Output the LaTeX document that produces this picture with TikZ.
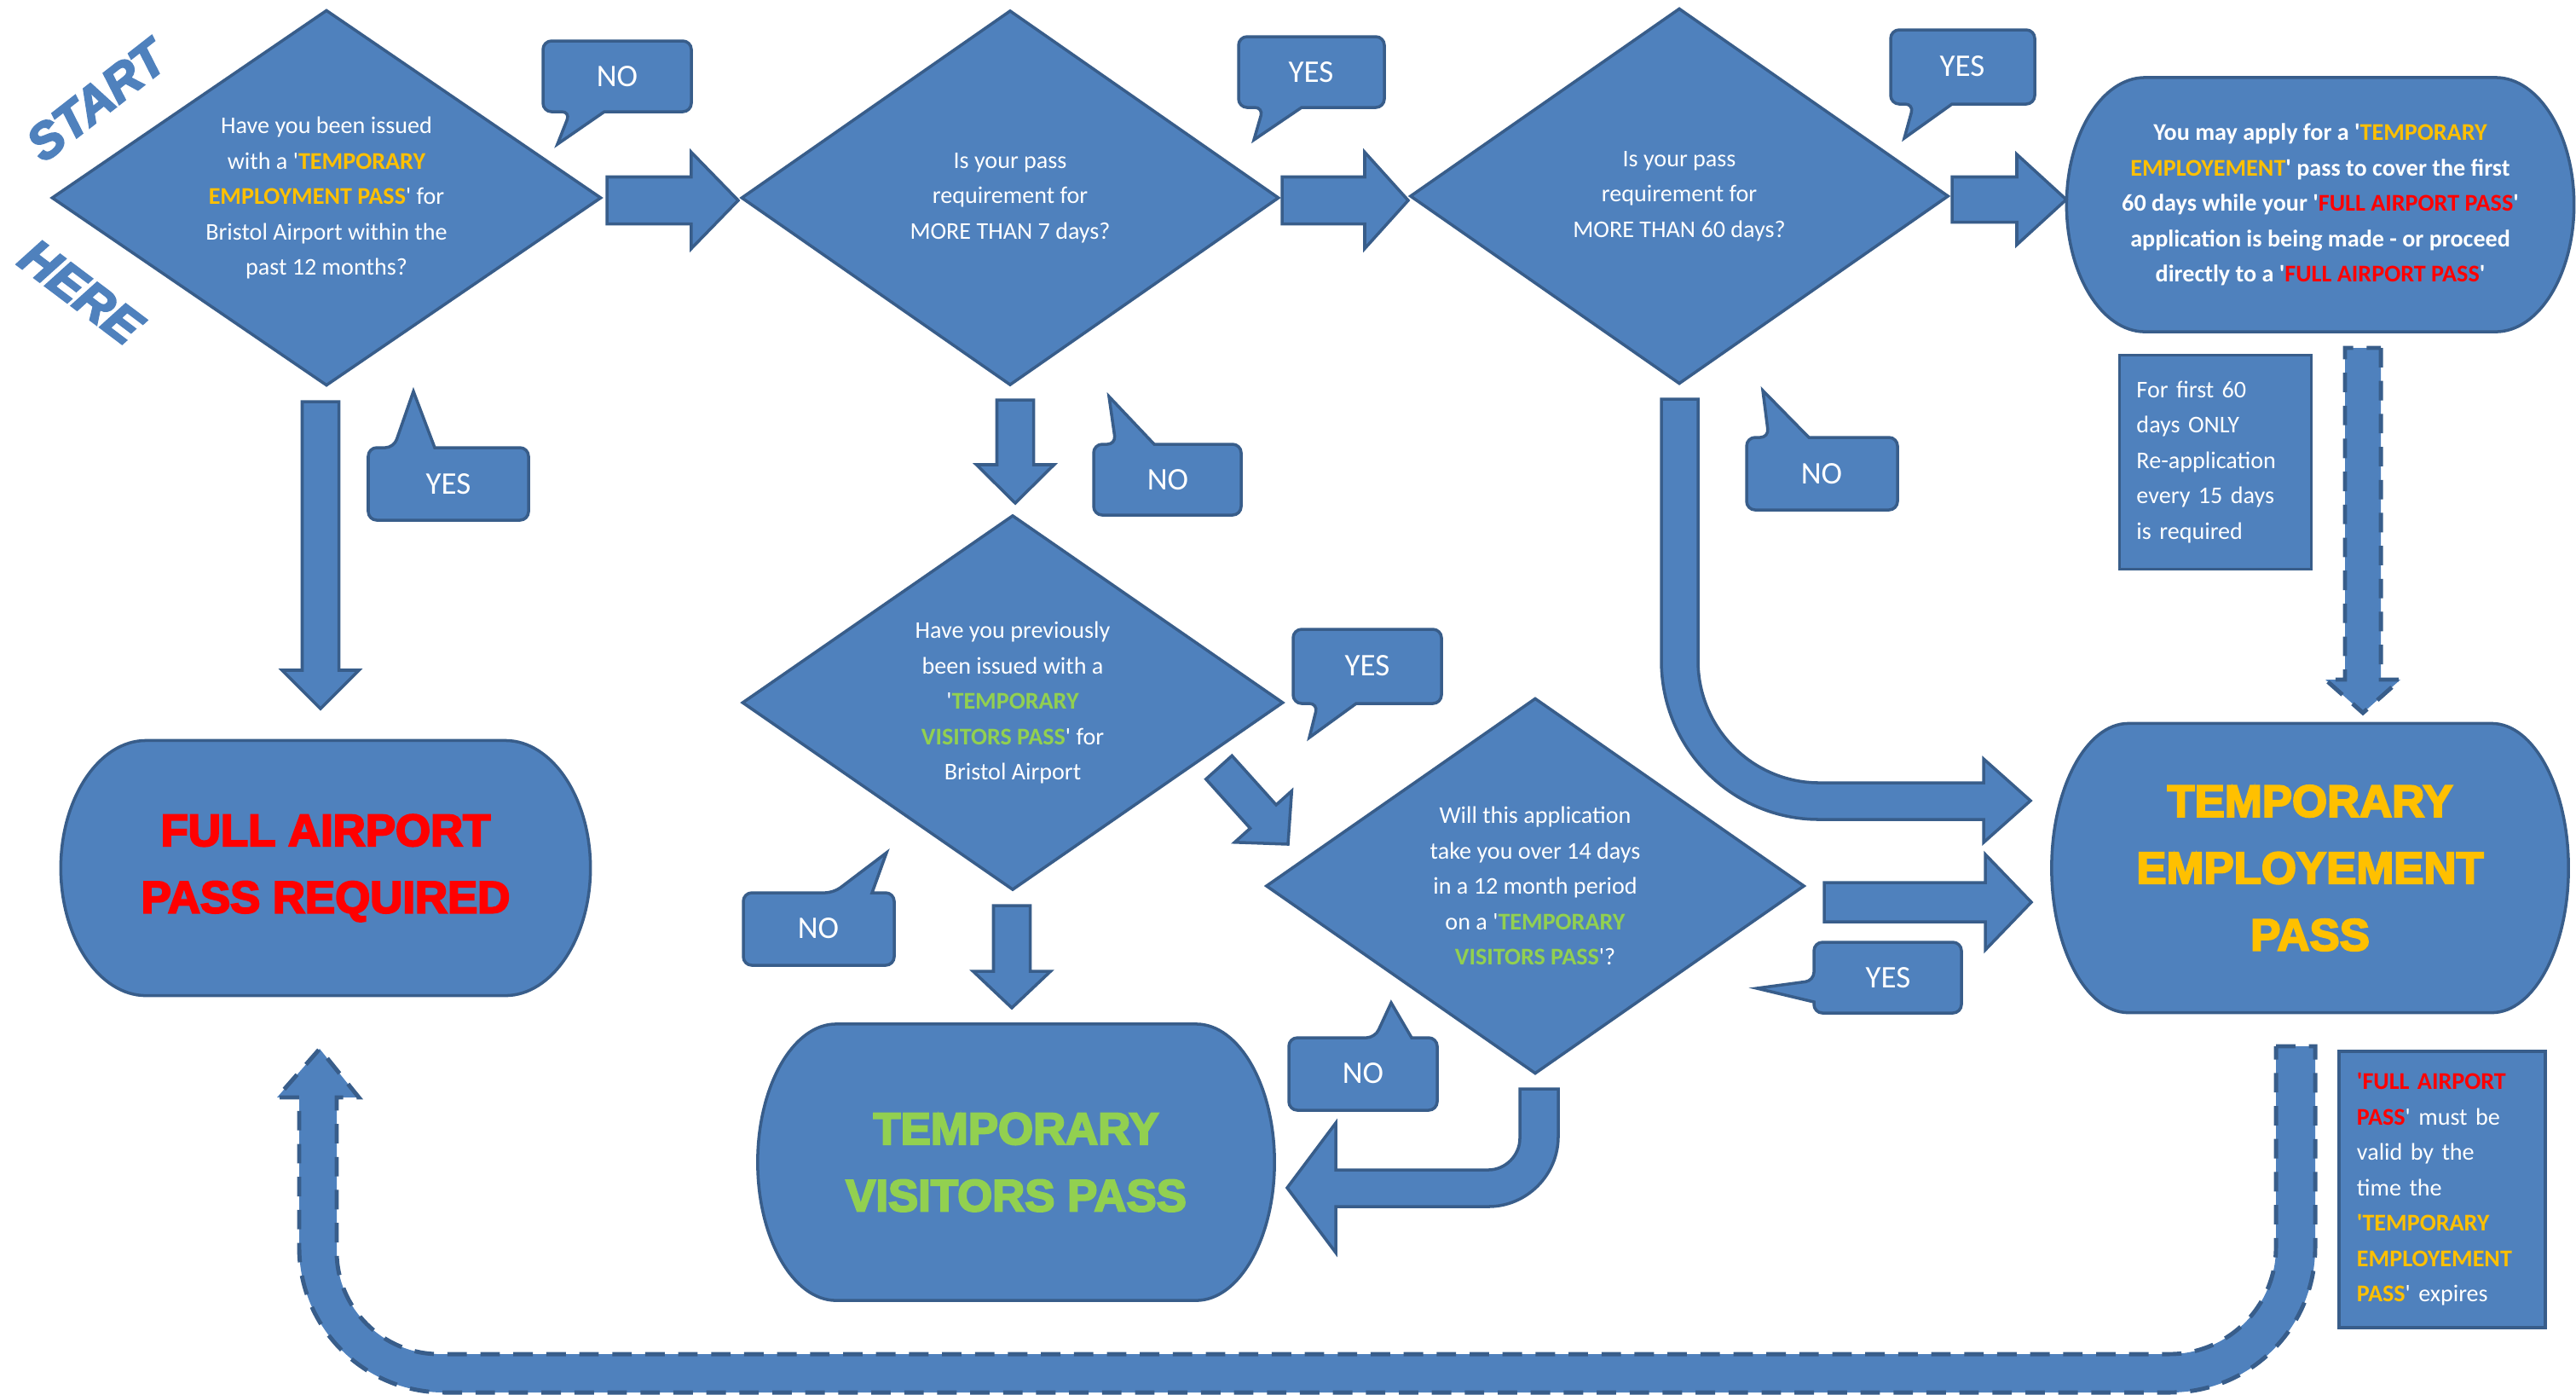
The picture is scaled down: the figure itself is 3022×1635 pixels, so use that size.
\documentclass[tikz,border=0pt]{standalone}
\usepackage{fontspec}
\setmainfont{Carlito}
\newfontfamily\heavyfont{Liberation Sans Bold}[FakeBold=4]
\newfontfamily\heavyitfont{Liberation Sans Bold Italic}[FakeBold=4]
\usetikzlibrary{shapes,calc}
\definecolor{boxblue}{HTML}{4F81BD}
\definecolor{edgeblue}{HTML}{385D8A}
\definecolor{passgold}{HTML}{FFC000}
\definecolor{passred}{HTML}{FF0000}
\definecolor{passgreen}{HTML}{92D050}
\pgfdeclarelayer{back}
\pgfsetlayers{back,main}

\newcommand{\q}{\textquotesingle}
\newcommand{\goldtext}[1]{\textcolor{passgold}{\bfseries #1}}
\newcommand{\redtext}[1]{\textcolor{passred}{\bfseries #1}}
\newcommand{\greentext}[1]{\textcolor{passgreen}{\bfseries #1}}
\newcommand{\smalltext}{\fontsize{8}{11.8}\selectfont}
\newcommand{\bigtext}{\heavyfont\fontsize{15}{22.3}\selectfont}

\tikzset{
    shapeline/.style={draw=edgeblue, fill=boxblue, line width=1pt},
    question/.style={shapeline, diamond, aspect=1.45, inner sep=0pt, outer sep=0pt, text=white, align=center, font=\smalltext},
    terminal/.style={inner sep=0pt, outer sep=0pt, align=center},
    note/.style={shapeline, inner xsep=0.2cm, inner ysep=0pt, outer sep=0pt, text=white, align=left, font=\smalltext},
    answer/.style={text=white, font=\fontsize{10.5}{12}\selectfont},
    flowarrow/.style={shapeline},
    dashline/.style={dash pattern=on 6.5pt off 4.5pt, line width=1.4pt},
    bigword/.style={text=boxblue, font=\heavyitfont\fontsize{16.5}{18}\selectfont},
}

\newcommand{\blockarrow}[6][]{
    \coordinate (hb) at ($(#3)!#6!(#2)$);
    \filldraw[flowarrow,#1] ($(#2)!#4!90:(#3)$) -- ($(hb)!#4!-90:(#2)$) -- ($(hb)!#5!-90:(#2)$) -- (#3)
        -- ($(hb)!#5!90:(#2)$) -- ($(hb)!#4!90:(#2)$) -- ($(#2)!#4!-90:(#3)$) -- cycle;
}
\newcommand{\termshape}[2]{
    \begin{pgfonlayer}{back}
    \filldraw[shapeline] ([xshift=#2]#1.north west) -- ([xshift=-#2]#1.north east)
        .. controls ([xshift=-0.45*#2]#1.north east) and ($(#1.east)!0.55!(#1.north east)$) .. (#1.east)
        .. controls ($(#1.east)!0.55!(#1.south east)$) and ([xshift=-0.45*#2]#1.south east) .. ([xshift=-#2]#1.south east)
        -- ([xshift=#2]#1.south west)
        .. controls ([xshift=0.45*#2]#1.south west) and ($(#1.west)!0.55!(#1.south west)$) .. (#1.west)
        .. controls ($(#1.west)!0.55!(#1.north west)$) and ([xshift=0.45*#2]#1.north west) .. cycle;
    \end{pgfonlayer}
}
\newcommand{\tailbelow}[8]{
    \filldraw[shapeline] (#6,#4) [rounded corners=0.1cm] -- (#3,#4) -- (#3,#2) -- (#1,#2) -- (#1,#4) -- (#5,#4) [sharp corners] -- (#7,#8) -- cycle;
}
\newcommand{\tailabove}[8]{
    \filldraw[shapeline] (#6,#2) [rounded corners=0.1cm] -- (#3,#2) -- (#3,#4) -- (#1,#4) -- (#1,#2) -- (#5,#2) [sharp corners] -- (#7,#8) -- cycle;
}
\newcommand{\tailleft}[8]{
    \filldraw[shapeline] (#1,#6) [rounded corners=0.1cm] -- (#1,#4) -- (#3,#4) -- (#3,#2) -- (#1,#2) -- (#1,#5) [sharp corners] -- (#7,#8) -- cycle;
}

\begin{document}
\begin{tikzpicture}[x=0.01cm, y=-0.01cm]
    \useasboundingbox (0,0) rectangle (3022,1635);

    \node[bigword, rotate=38] (start) at (113,118) {START};
    \node[bigword, rotate=-37] (here) at (95,342) {HERE};

    \node[question, minimum width=6.43cm, minimum height=4.39cm] (q1) at (383,232) {
        Have you been issued\\
        with a \q\goldtext{TEMPORARY}\\
        \goldtext{EMPLOYMENT PASS}\q{} for\\
        Bristol Airport within the\\
        past 12 months?
    };
    \node[question, minimum width=6.29cm, minimum height=4.38cm] (q2) at (1185,232) {
        Is your pass\\
        requirement for\\
        MORE THAN 7 days?
    };
    \node[question, minimum width=6.30cm, minimum height=4.39cm] (q3) at (1970,230) {
        Is your pass\\
        requirement for\\
        MORE THAN 60 days?
    };
    \node[question, minimum width=6.33cm, minimum height=4.38cm] (q4) at (1188,824) {
        Have you previously\\
        been issued with a\\
        \q\greentext{TEMPORARY}\\
        \greentext{VISITORS PASS}\q{} for\\
        Bristol Airport
    };
    \node[question, minimum width=6.30cm, minimum height=4.39cm] (q5) at (1801,1039) {
        Will this application\\
        take you over 14 days\\
        in a 12 month period\\
        on a \q\greentext{TEMPORARY}\\
        \greentext{VISITORS PASS}\q?
    };

    \node[terminal, minimum width=5.95cm, minimum height=2.98cm, text=white, font=\smalltext\bfseries] (apply) at (2722,240) {
        You may apply for a \q\goldtext{TEMPORARY}\\
        \goldtext{EMPLOYEMENT}\q{} pass to cover the first\\
        60 days while your \q\redtext{FULL AIRPORT PASS}\q\\
        application is being made - or proceed\\
        directly to a \q\redtext{FULL AIRPORT PASS}\q
    };
    \node[terminal, minimum width=6.21cm, minimum height=2.99cm, text=passred, font=\bigtext] (fullpass) at (382,1018) {
        FULL AIRPORT\\
        PASS REQUIRED
    };
    \node[terminal, minimum width=6.06cm, minimum height=3.39cm, text=passgold, font=\bigtext] (employpass) at (2710,1018) {
        TEMPORARY\\
        EMPLOYEMENT\\
        PASS
    };
    \node[terminal, minimum width=6.06cm, minimum height=3.24cm, text=passgreen, font=\bigtext] (visitpass) at (1192,1363) {
        TEMPORARY\\
        VISITORS PASS
    };
    \termshape{apply}{0.92cm}
    \termshape{fullpass}{1cm}
    \termshape{employpass}{0.9cm}
    \termshape{visitpass}{0.92cm}

    \node[note, minimum width=2.23cm, minimum height=2.51cm, text width=1.85cm] (note60) at (2599,542) {
        For first 60\\
        days ONLY\\
        Re-application\\
        every 15 days\\
        is required
    };
    \node[note, minimum width=2.42cm, minimum height=3.24cm, text width=2.0cm] (noteexp) at (2865,1395) {
        \redtext{\q FULL AIRPORT}\\
        \redtext{PASS}\q{} must be\\
        valid by the\\
        time the\\
        \goldtext{\q TEMPORARY}\\
        \goldtext{EMPLOYEMENT}\\
        \goldtext{PASS}\q{} expires
    };

    \coordinate (a1s) at (712,235);
    \coordinate (a1e) at (866,235);
    \coordinate (a2s) at (1504,235);
    \coordinate (a2e) at (1652,235);
    \coordinate (a3s) at (2290,234);
    \coordinate (a3e) at (2424,234);
    \coordinate (a4s) at (376,471);
    \coordinate (a4e) at (376,831);
    \coordinate (a5s) at (1191,469);
    \coordinate (a5e) at (1191,590);
    \coordinate (a6s) at (1187,1062);
    \coordinate (a6e) at (1187,1182);
    \coordinate (a7s) at (1430,900);
    \coordinate (a7e) at (1511,990);
    \coordinate (a8s) at (2140,1058);
    \coordinate (a8e) at (2383,1058);
    \coordinate (a9s) at (2772,408);
    \coordinate (a9e) at (2772,836);

    \blockarrow{a1s}{a1e}{0.275cm}{0.565cm}{0.55cm}
    \blockarrow{a2s}{a2e}{0.275cm}{0.565cm}{0.51cm}
    \blockarrow{a3s}{a3e}{0.265cm}{0.53cm}{0.58cm}
    \blockarrow{a4s}{a4e}{0.215cm}{0.45cm}{0.45cm}
    \blockarrow{a5s}{a5e}{0.215cm}{0.455cm}{0.45cm}
    \blockarrow{a6s}{a6e}{0.215cm}{0.455cm}{0.43cm}
    \blockarrow{a7s}{a7e}{0.205cm}{0.45cm}{0.435cm}
    \blockarrow{a8s}{a8e}{0.23cm}{0.56cm}{0.54cm}
    \blockarrow[dashline]{a9s}{a9e}{0.21cm}{0.44cm}{0.39cm}

    \filldraw[flowarrow] (1949,468) -- (1949,775) .. controls (1949,878) and (2032,961) .. (2134,961) -- (2327,961)
        -- (2327,988) -- (2382,939) -- (2327,890) -- (2327,918) -- (2134,918)
        .. controls (2056,918) and (1992,854) .. (1992,775) -- (1992,468) -- cycle;
    \filldraw[flowarrow] (1783,1277) -- (1828,1277) -- (1828,1333) .. controls (1828,1378) and (1791,1415) .. (1746,1415)
        -- (1567,1415) -- (1567,1469) -- (1510,1393) -- (1567,1317) -- (1567,1372) -- (1746,1372)
        .. controls (1766,1372) and (1783,1355) .. (1783,1335) -- cycle;
    \filldraw[flowarrow, dashline] (2670,1227) -- (2716,1227) -- (2716,1463) .. controls (2716,1557) and (2640,1633) .. (2546,1633)
        -- (521,1633) .. controls (427,1633) and (351,1557) .. (351,1463) -- (351,1287) -- (325,1287) -- (375,1230)
        -- (421,1287) -- (395,1287) -- (395,1468) .. controls (395,1534) and (449,1588) .. (515,1588)
        -- (2545,1588) .. controls (2614,1588) and (2670,1532) .. (2670,1463) -- cycle;

    \tailbelow{637}{48}{811}{131}{669}{709}{654}{169}
    \tailbelow{1453}{43}{1624}{126}{1482}{1527}{1471}{164}
    \tailbelow{2218}{35}{2387}{122}{2245}{2290}{2234}{162}
    \tailabove{432}{525}{620}{610}{462}{510}{485}{459}
    \tailabove{1283}{521}{1456}{604}{1309}{1354}{1301}{465}
    \tailabove{2049}{513}{2226}{598}{2075}{2122}{2068}{458}
    \tailbelow{1517}{738}{1691}{825}{1546}{1591}{1536}{865}
    \tailabove{872}{1047}{1049}{1132}{978}{1023}{1040}{1000}
    \tailabove{1512}{1217}{1686}{1302}{1613}{1656}{1632}{1176}
    \tailleft{2128}{1105}{2301}{1188}{1150}{1175}{2061}{1159}

    \node[answer] (noA) at (724,90) {NO};
    \node[answer] (yesA) at (1538,85) {YES};
    \node[answer] (yesB) at (2302,78) {YES};
    \node[answer] (yesC) at (526,568) {YES};
    \node[answer] (noB) at (1370,563) {NO};
    \node[answer] (noC) at (2137,556) {NO};
    \node[answer] (yesD) at (1604,781) {YES};
    \node[answer] (noD) at (960,1089) {NO};
    \node[answer] (noE) at (1599,1259) {NO};
    \node[answer] (yesE) at (2215,1147) {YES};
\end{tikzpicture}
\end{document}
